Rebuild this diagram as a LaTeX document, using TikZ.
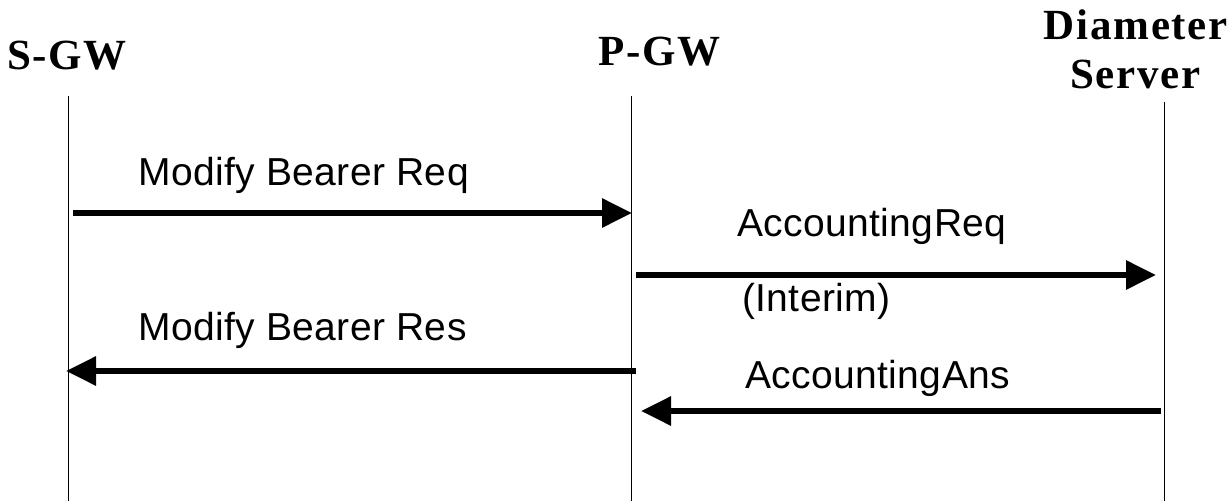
\documentclass[tikz,border=0pt]{standalone}
\usepackage{fontspec}
\setmainfont{Liberation Serif}
\setsansfont{Liberation Sans}[LetterSpace=1]
\newfontfamily\hdrfont{Liberation Serif}[LetterSpace=4]
\usetikzlibrary{arrows.meta}
\tikzset{
  lifeline/.style={line width=1pt, black},
  msg/.style={line width=6pt, -{Triangle[length=30pt,width=28pt]}},
  actor/.style={font=\fontsize{43}{48}\selectfont\hdrfont\bfseries, inner sep=0pt, anchor=base west},
  lbl/.style={font=\fontsize{39}{44}\selectfont\sffamily, inner sep=0pt, anchor=base west},
}
\begin{document}
\begin{tikzpicture}[x=1pt,y=-1pt]
\useasboundingbox (0,0) rectangle (1232,501);
% actors
\node[actor] (sgw) at (7,69) {S-GW};
\node[actor] (pgw) at (598,65) {P-GW};
\node[actor, anchor=base east] (dia1) at (1228,39) {Diameter};
\node[actor] (dia2) at (1070,88) {Server};
% lifelines
\coordinate (sTop) at (68,96);  \coordinate (sBot) at (68,501);
\coordinate (pTop) at (631,96); \coordinate (pBot) at (631,501);
\coordinate (dTop) at (1164,102); \coordinate (dBot) at (1164,501);
\draw[lifeline] (sTop) -- (sBot);
\draw[lifeline] (pTop) -- (pBot);
\draw[lifeline] (dTop) -- (dBot);
% message endpoints
\coordinate (m1a) at (73,213);   \coordinate (m1b) at (632,213);
\coordinate (m2a) at (636,275);  \coordinate (m2b) at (1156,275);
\coordinate (m3a) at (636,371);  \coordinate (m3b) at (66,371);
\coordinate (m4a) at (1161,411); \coordinate (m4b) at (641,411);
\draw[msg] (m1a) -- (m1b);
\draw[msg] (m2a) -- (m2b);
\draw[msg] (m3a) -- (m3b);
\draw[msg] (m4a) -- (m4b);
% labels
\node[lbl] (l1) at (138,185) {Modify Bearer Req};
\node[lbl] (l2) at (737,236) {AccountingReq};
\node[lbl] (l3) at (742,311) {(Interim)};
\node[lbl] (l4) at (138,340) {Modify Bearer Res};
\node[lbl] (l5) at (745,388) {AccountingAns};
\end{tikzpicture}
\end{document}
